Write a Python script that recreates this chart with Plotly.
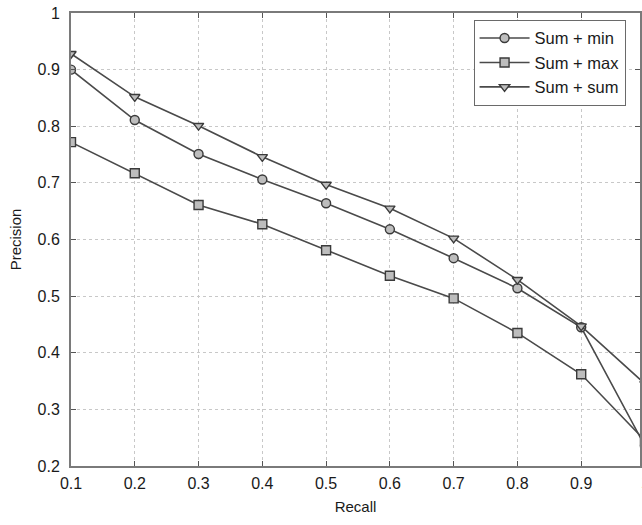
import plotly.graph_objects as go

# Precision/recall values for the three fusion variants
recall = [0.1, 0.2, 0.3, 0.4, 0.5, 0.6, 0.7, 0.8, 0.9, 1.0]
sum_min = [0.900, 0.811, 0.751, 0.706, 0.664, 0.618, 0.567, 0.514, 0.445, 0.235]
sum_max = [0.772, 0.717, 0.661, 0.627, 0.581, 0.536, 0.496, 0.435, 0.362, 0.245]
sum_sum = [0.928, 0.852, 0.801, 0.746, 0.697, 0.655, 0.602, 0.529, 0.447, 0.345]

series_names = ["Sum + min", "Sum + max", "Sum + sum"]
series_symbols = ["circle", "square", "triangle-down"]

x_ticks = [0.1, 0.2, 0.3, 0.4, 0.5, 0.6, 0.7, 0.8, 0.9]
x_ticktext = ["0.1", "0.2", "0.3", "0.4", "0.5", "0.6", "0.7", "0.8", "0.9"]
y_ticks = [0.2, 0.3, 0.4, 0.5, 0.6, 0.7, 0.8, 0.9, 1.0]
y_ticktext = ["0.2", "0.3", "0.4", "0.5", "0.6", "0.7", "0.8", "0.9", "1"]

FONT = "Liberation Sans, Arial, sans-serif"
LINE = "#4a4a4a"
TEXT = "#1a1a1a"

fig = go.Figure()
for name, vals, sym in zip(series_names, [sum_min, sum_max, sum_sum], series_symbols):
    fig.add_trace(go.Scatter(
        x=recall, y=vals, name=name, mode="lines+markers",
        line=dict(color=LINE, width=1.6),
        marker=dict(symbol=sym, size=9, color="#bdbdbd",
                    line=dict(color="#3a3a3a", width=1.4)),
    ))

axis_common = dict(
    showline=True, linecolor="#7a7a7a", linewidth=2, mirror="ticks",
    ticks="inside", ticklen=5, tickcolor="#555", tickwidth=1,
    showgrid=True, gridcolor="#c8c8c8", griddash="dot", gridwidth=1,
    zeroline=False,
    tickfont=dict(family=FONT, size=16, color=TEXT),
)

fig.update_xaxes(
    range=[0.1, 0.9922], tickvals=x_ticks, ticktext=x_ticktext,
    ticklabelstandoff=2,
    title=dict(text="Recall", font=dict(family=FONT, size=15, color=TEXT), standoff=10),
    **axis_common,
)
fig.update_yaxes(
    range=[0.2, 1.0], tickvals=y_ticks, ticktext=y_ticktext,
    ticklabelstandoff=6,
    title=dict(text="Precision", font=dict(family=FONT, size=15, color=TEXT), standoff=12),
    **axis_common,
)

# tick label for recall = 1 sits just past the visible plot edge
fig.add_annotation(
    text="1", xref="paper", yref="paper", x=1.0088, y=0, yshift=-16,
    showarrow=False, font=dict(family=FONT, size=16, color=TEXT),
    xanchor="center", yanchor="middle",
)

fig.update_layout(
    width=642, height=525,
    margin=dict(l=71, r=0, t=13, b=59),
    plot_bgcolor="white", paper_bgcolor="white",
    font=dict(family=FONT, size=16, color=TEXT),
    legend=dict(
        x=0.7075, y=0.985, xanchor="left", yanchor="top",
        bgcolor="white", bordercolor="#6a6a6a", borderwidth=1,
        font=dict(family=FONT, size=16.5, color=TEXT),
        itemwidth=50, tracegroupgap=0,
    ),
    showlegend=True,
)

fig.write_html("out.html")
